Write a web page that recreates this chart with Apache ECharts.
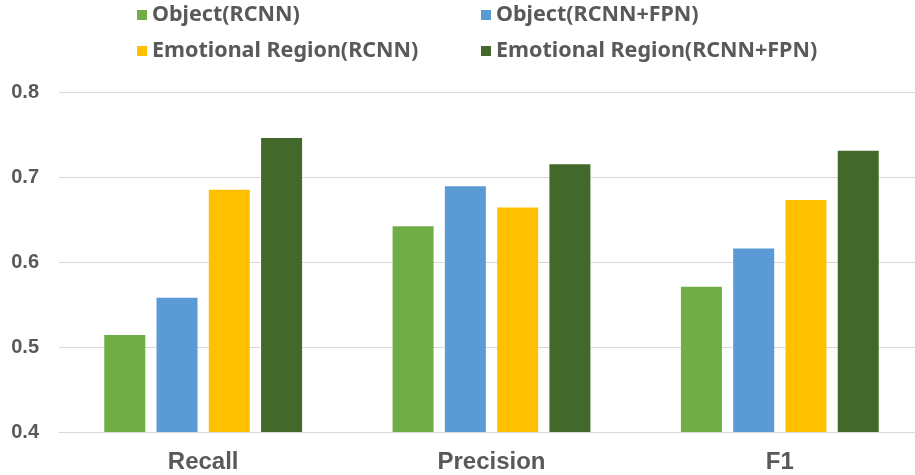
<!DOCTYPE html>
<html>
<head>
<meta charset="utf-8">
<script src="https://cdn.jsdelivr.net/npm/echarts@6/dist/echarts.min.js"></script>
<style>
html,body{margin:0;padding:0;background:#fff;overflow:hidden;width:915px;height:475px;}
#c{width:925px;height:475px;}
</style>
</head>
<body>
<div id="c"></div>
<script>
var categories = ['Recall', 'Precision', 'F1'];
var seriesNames = ['Object(RCNN)', 'Object(RCNN+FPN)', 'Emotional Region(RCNN)', 'Emotional Region(RCNN+FPN)'];
var objectRCNN = [0.514, 0.642, 0.571];
var objectFPN = [0.558, 0.689, 0.616];
var emoRCNN = [0.685, 0.664, 0.673];
var emoFPN = [0.746, 0.715, 0.731];
var yTicks = [0.4, 0.5, 0.6, 0.7, 0.8];

var colors = ['#70AD47', '#5B9BD5', '#FFC000', '#43682B'];
var values = [objectRCNN, objectFPN, emoRCNN, emoFPN];

var legendPos = [
  {left: 137, top: 3},
  {left: 481, top: 3},
  {left: 137, top: 39},
  {left: 481, top: 39}
];
var legendFont = {fontFamily: 'Noto Sans, Liberation Sans, sans-serif', fontSize: 21.5, fontWeight: 'bold', color: '#595959', lineHeight: 24};

var chart = echarts.init(document.getElementById('c'), null, {renderer: 'canvas'});
chart.setOption({
  animation: false,
  color: colors,
  legend: seriesNames.map(function (n, i) {
    return {
      data: [n],
      left: legendPos[i].left,
      top: legendPos[i].top,
      itemWidth: 10,
      itemHeight: 10,
      icon: 'rect',
      padding: 0,
      textStyle: legendFont
    };
  }),
  grid: {left: 59, right: 1, top: 92, bottom: 43, containLabel: false, outerBoundsMode: 'none'},
  xAxis: {
    type: 'category',
    data: categories,
    axisTick: {show: false},
    axisLine: {show: true, lineStyle: {color: '#D9D9D9', width: 1}},
    axisLabel: {
      margin: 18,
      fontFamily: 'Liberation Sans, Arial, sans-serif',
      fontSize: 24,
      fontWeight: 'bold',
      color: '#595959'
    }
  },
  yAxis: {
    type: 'value',
    min: yTicks[0],
    max: yTicks[yTicks.length - 1],
    interval: 0.1,
    axisLine: {show: false},
    axisTick: {show: false},
    splitLine: {lineStyle: {color: '#D9D9D9', width: 1}},
    axisLabel: {
      margin: 20,
      fontFamily: 'Liberation Sans, Arial, sans-serif',
      fontSize: 20,
      fontWeight: 'bold',
      color: '#595959',
      formatter: function (v) { return v.toFixed(1); }
    }
  },
  series: seriesNames.map(function (n, i) {
    return {
      name: n,
      type: 'bar',
      data: values[i],
      barWidth: 41,
      barGap: '27.5%',
      itemStyle: {color: colors[i]}
    };
  })
});
</script>
</body>
</html>
